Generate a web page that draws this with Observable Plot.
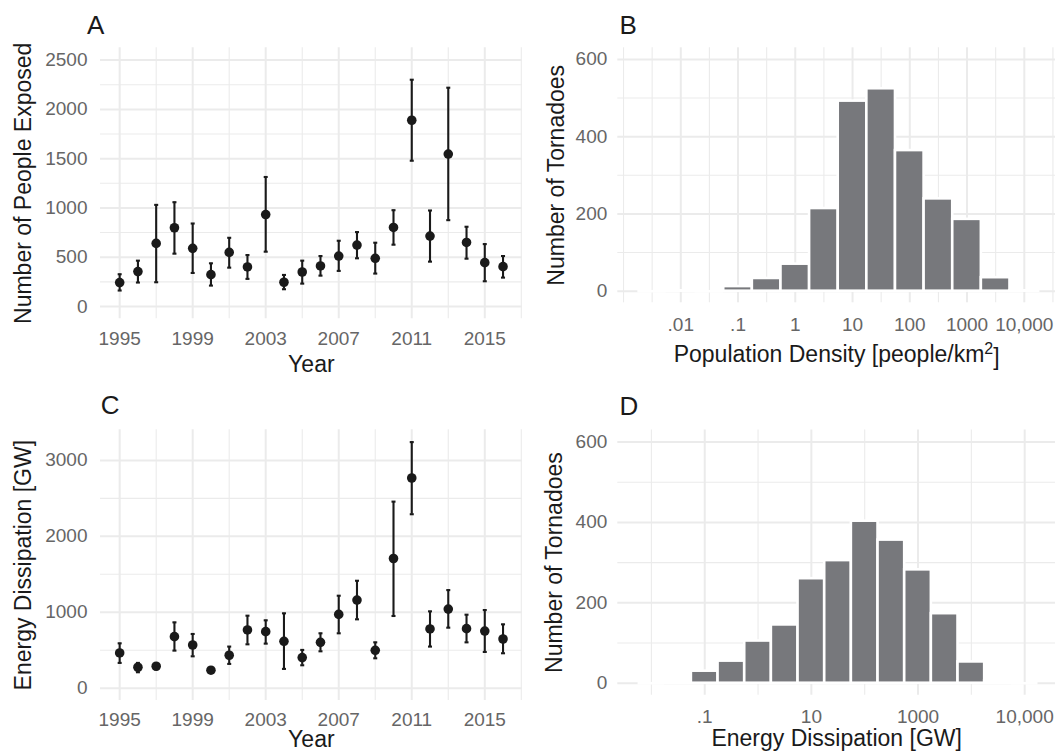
<!DOCTYPE html>
<html><head><meta charset="utf-8">
<script src="https://cdn.jsdelivr.net/npm/d3@7"></script>
<script src="https://cdn.jsdelivr.net/npm/@observablehq/plot@0.6"></script>
<style>
html,body{margin:0;padding:0;background:#fff;overflow:hidden;}
#wrap{position:relative;width:1055px;height:752px;overflow:hidden;font-family:"Liberation Sans",Arial,sans-serif;background:#fff;}
.panel{position:absolute;}
.panel svg{overflow:visible;}
g[aria-label="x-axis label"] text, g[aria-label="y-axis label"] text{font-size:23px;fill:#1a1a1a;}
g[aria-label="x-axis label"], g[aria-label="y-axis label"]{fill:#1a1a1a;}
#tags{position:absolute;left:0;top:0;pointer-events:none;}
</style></head><body><div id="wrap"></div>
<script>
// ---- Data ----
const years = [1995,1996,1997,1998,1999,2000,2001,2002,2003,2004,2005,2006,2007,2008,2009,2010,2011,2012,2013,2014,2015,2016];
const peopleMean = [243,354,640,799,590,323,549,401,933,246,350,411,512,623,489,802,1890,714,1547,650,445,404];
const peopleLow  = [162,243,246,536,340,212,394,280,556,175,232,313,361,489,334,627,1479,455,876,485,256,293];
const peopleHigh = [327,465,1031,1058,842,438,697,522,1314,320,465,512,667,755,647,977,2301,974,2220,809,633,512];
const energyMean = [464,276,289,679,569,237,434,767,745,618,403,604,972,1161,499,1708,2768,780,1042,784,753,648];
const energyLow  = [333,210,250,495,420,205,320,578,587,254,302,486,723,907,394,951,2291,548,797,604,477,460];
const energyHigh = [591,333,325,867,714,270,548,955,894,986,504,723,1218,1415,604,2457,3241,1012,1292,968,1029,841];

// histogram bins: centre of each bin in log10 units (bins are half a decade wide)
const densityBinLog10 = [-2.5,-2,-1.5,-1,-0.5,0,0.5,1,1.5,2,2.5,3,3.5,4];
const densityCount    = [0,1,0,12,33,70,214,492,524,364,239,186,35,1];
const energyBinLog10  = [-2,-1.5,-1,-0.5,0,0.5,1,1.5,2,2.5,3,3.5,4,4.5,5];
const energyCount     = [0,1,30,55,105,145,260,305,403,356,282,173,53,6,0];

// ticks and grid
const yearTicks = [1995,1999,2003,2007,2011,2015];
const yearMinor = [1997,2001,2005,2009,2013,2017];
const peopleTicks = [0,500,1000,1500,2000,2500];
const peopleMinor = [250,750,1250,1750,2250];
const energyTicks = [0,1000,2000,3000];
const energyMinor = [500,1500,2500];
const countTicks = [0,200,400,600];
const countMinor = [100,300,500];
const densityTicks = [0.01,0.1,1,10,100,1000,10000];
const densityTickLabels = [".01",".1","1","10","100","1000","10,000"];
const densityMinor = [0.001,10**-2.5,10**-1.5,10**-0.5,10**0.5,10**1.5,10**2.5,10**3.5,10**4.5];
const energyLogTicks = [0.1,10,1000,100000];
const energyLogTickLabels = [".1","10","1000","10,000"];
const energyLogMinor = [0.01,1,100,10000];

// ---- styles ----
const GRID = "#ebebeb", INK = "#1a1a1a", BAR = "#77787c";
const baseStyle = {fontFamily:'"Liberation Sans", Arial, sans-serif', fontSize:"19px", color:"#666666", background:"white", overflow:"visible"};
const wrap = document.getElementById("wrap");
function place(node, left, top){ const d=document.createElement("div"); d.className="panel"; d.style.left=left+"px"; d.style.top=top+"px"; d.appendChild(node); wrap.appendChild(d); return node; }
function seriesRows(mean, lo, hi){ return years.map((y,i)=>({year:y, mean:mean[i], lo:lo[i], hi:hi[i]})); }

function yearPanel(rows, o){
  return Plot.plot({
    width:530, height:o.height, marginLeft:100, marginRight:8.3, marginTop:o.mt, marginBottom:o.mb, style: baseStyle,
    x:{domain:[1993.95,2017.05], ticks:yearTicks, tickFormat:d=>String(d), tickSize:0, tickPadding:o.xpad,
       label:"Year", labelAnchor:"center", labelArrow:"none", labelOffset:o.xlo},
    y:{domain:o.ydomain, ticks:o.yticks, tickFormat:d=>String(d), tickSize:0, tickPadding:13,
       label:o.ylabel, labelAnchor:"center", labelArrow:"none", labelOffset:o.ylo},
    marks:[
      Plot.gridX(yearMinor,{stroke:GRID, strokeOpacity:1, strokeWidth:1.1}),
      Plot.gridY(o.yminor,{stroke:GRID, strokeOpacity:1, strokeWidth:1.1}),
      Plot.gridX(yearTicks,{stroke:GRID, strokeOpacity:1, strokeWidth:2}),
      Plot.gridY(o.yticks,{stroke:GRID, strokeOpacity:1, strokeWidth:2}),
      Plot.ruleX(rows,{x:"year", y1:"lo", y2:"hi", stroke:INK, strokeWidth:2.1}),
      Plot.link(rows,{x1:d=>d.year-0.11, x2:d=>d.year+0.11, y1:"lo", y2:"lo", stroke:INK, strokeWidth:2.1}),
      Plot.link(rows,{x1:d=>d.year-0.11, x2:d=>d.year+0.11, y1:"hi", y2:"hi", stroke:INK, strokeWidth:2.1}),
      Plot.dot(rows,{x:"year", y:"mean", r:4.8, fill:INK, stroke:"none"})
    ]
  });
}
function histPanel(centres, counts, o){
  const bins = centres.map((c,i)=>({x1:10**(c-0.25), x2:10**(c+0.25), n:counts[i]}));
  const labelOf = v => o.tickLabels[o.ticks.findIndex(t=>Math.abs(Math.log10(t)-Math.log10(v))<1e-6)];
  return Plot.plot({
    width:525, height:o.height, marginLeft:87.3, marginRight:0, marginTop:o.mt, marginBottom:o.mb, style: baseStyle,
    x:{type:"log", domain:o.xdomain, ticks:o.ticks, tickFormat:labelOf, tickSize:0, tickPadding:o.xpad,
       label:o.xlabel, labelAnchor:"center", labelArrow:"none", labelOffset:o.xlo},
    y:{domain:[-30,630], ticks:countTicks, tickFormat:d=>String(d), tickSize:0, tickPadding:10.5,
       label:"Number of Tornadoes", labelAnchor:"center", labelArrow:"none", labelOffset:o.ylo},
    marks:[
      Plot.gridX(o.minor,{stroke:GRID, strokeOpacity:1, strokeWidth:1.1}),
      Plot.gridY(countMinor,{stroke:GRID, strokeOpacity:1, strokeWidth:1.1}),
      Plot.gridX(o.ticks,{stroke:GRID, strokeOpacity:1, strokeWidth:2}),
      Plot.gridY(countTicks,{stroke:GRID, strokeOpacity:1, strokeWidth:2}),
      Plot.rectY(bins.filter(b=>b.n>0),{x1:"x1", x2:"x2", y1:0, y2:"n", fill:BAR, stroke:"white", strokeWidth:2.6}),
      Plot.ruleY(bins.filter(b=>b.n===0),{y:0, x1:"x1", x2:"x2", stroke:"white", strokeWidth:2.6})
    ]
  });
}

place(yearPanel(seriesRows(peopleMean,peopleLow,peopleHigh),
  {height:380, mt:47.3, mb:61.7, ydomain:[-125,2625], yticks:peopleTicks, yminor:peopleMinor,
   ylabel:"Number of People Exposed", xpad:12.2, xlo:53.4, ylo:86}), 0, 0);
place(yearPanel(seriesRows(energyMean,energyLow,energyHigh),
  {height:372, mt:49.3, mb:52, ydomain:[-162,3403], yticks:energyTicks, yminor:energyMinor,
   ylabel:"Energy Dissipation [GW]", xpad:11.5, xlo:46.5, ylo:86}), 0, 380);
place(histPanel(densityBinLog10, densityCount,
  {height:380, mt:47.3, mb:77.7, xdomain:[10**-3.1, 10**4.545], ticks:densityTicks, tickLabels:densityTickLabels,
   minor:densityMinor, xlabel:"Population Density [people/km2]", xpad:14.2, xlo:58.7, ylo:70}), 530, 0);
place(histPanel(energyBinLog10, energyCount,
  {height:372, mt:49.4, mb:57.2, xdomain:[10**-2.63, 10**5.578], ticks:energyLogTicks, tickLabels:energyLogTickLabels,
   minor:energyLogMinor, xlabel:"Energy Dissipation [GW]", xpad:13.7, xlo:50.5, ylo:72}), 530, 380);

// superscript in the B axis title
d3.selectAll('g[aria-label="x-axis label"] text').each(function(){
  const t = d3.select(this);
  if (t.text().indexOf("km2") >= 0) {
    t.text("Population Density [people/km");
    t.append("tspan").attr("dy","-0.5em").style("font-size","16px").text("2");
    t.append("tspan").attr("dy","0.5em").text("]");
  }
});

// panel tags
const tags = [{t:"A",x:87,y:34},{t:"B",x:619.5,y:34},{t:"C",x:100.7,y:414},{t:"D",x:619.5,y:415}];
const ns="http://www.w3.org/2000/svg";
const tsvg=document.createElementNS(ns,"svg"); tsvg.setAttribute("id","tags"); tsvg.setAttribute("width",1055); tsvg.setAttribute("height",752);
tags.forEach(g=>{ const e=document.createElementNS(ns,"text"); e.setAttribute("x",g.x); e.setAttribute("y",g.y); e.setAttribute("font-size","26"); e.setAttribute("fill",INK); e.setAttribute("font-family",'"Liberation Sans", Arial, sans-serif'); e.textContent=g.t; tsvg.appendChild(e); });
wrap.appendChild(tsvg);
</script></body></html>
